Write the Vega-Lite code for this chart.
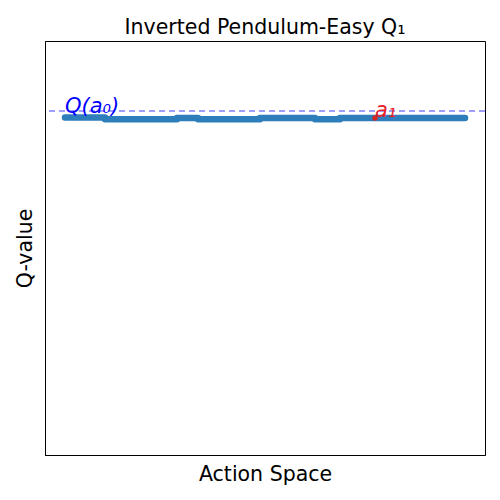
{
  "$schema": "https://vega.github.io/schema/vega-lite/v6.json",
  "width": 440,
  "height": 414,
  "autosize": "none",
  "padding": {"left": 45, "top": 41, "right": 15, "bottom": 45},
  "background": "white",
  "config": {"view": {"stroke": "black", "strokeWidth": 1}, "font": "DejaVu Sans"},
  "title": {"text": "Inverted Pendulum-Easy Q₁", "fontSize": 20.5, "fontWeight": "normal", "font": "DejaVu Sans", "color": "black", "offset": 3},
  "datasets": {
    "q": [
      {"a": 20, "q": 337.5}, {"a": 60, "q": 337.5}, {"a": 60, "q": 335.8}, {"a": 132, "q": 335.8},
      {"a": 132, "q": 337}, {"a": 153, "q": 337}, {"a": 153, "q": 335.8}, {"a": 215, "q": 335.8},
      {"a": 215, "q": 337}, {"a": 270, "q": 337}, {"a": 270, "q": 335.8}, {"a": 295, "q": 335.8},
      {"a": 295, "q": 337}, {"a": 420, "q": 337}
    ],
    "best": [{"a": 330, "q": 337, "label": "a₁"}],
    "q0": [{"a": 20, "q": 344, "label": "Q(a₀)"}]
  },
  "layer": [
    {
      "data": {"name": "q"},
      "mark": {"type": "line", "color": "#2e7ebb", "strokeWidth": 6.5, "strokeCap": "round", "strokeJoin": "round"},
      "encoding": {
        "x": {"field": "a", "type": "quantitative", "scale": {"domain": [0, 440], "nice": false, "zero": false},
              "axis": {"title": "Action Space", "labels": false, "ticks": false, "grid": false, "domainColor": "black", "titleFontSize": 20.5, "titleFontWeight": "normal", "titleColor": "black", "titlePadding": 9}},
        "y": {"field": "q", "type": "quantitative", "scale": {"domain": [0, 414], "nice": false, "zero": false},
              "axis": {"title": "Q-value", "labels": false, "ticks": false, "grid": false, "domainColor": "black", "titleFontSize": 20.5, "titleFontWeight": "normal", "titleColor": "black", "titlePadding": 10}}
      }
    },
    {
      "data": {"name": "q0"},
      "mark": {"type": "rule", "color": "#7f7fff", "strokeWidth": 1.5, "strokeDash": [6, 4]},
      "encoding": {"y": {"field": "q", "type": "quantitative"}}
    },
    {
      "data": {"name": "q0"},
      "mark": {"type": "text", "color": "#0000ff", "fontSize": 21, "fontStyle": "italic", "align": "left", "baseline": "alphabetic", "dy": 2},
      "encoding": {"x": {"field": "a", "type": "quantitative"}, "y": {"field": "q", "type": "quantitative"}, "text": {"field": "label"}}
    },
    {
      "data": {"name": "best"},
      "mark": {"type": "point", "filled": true, "color": "#d62728", "size": 30, "opacity": 1},
      "encoding": {"x": {"field": "a", "type": "quantitative"}, "y": {"field": "q", "type": "quantitative"}}
    },
    {
      "data": {"name": "best"},
      "mark": {"type": "text", "color": "#e8202a", "fontSize": 21, "fontStyle": "italic", "align": "left", "baseline": "alphabetic", "dy": -1},
      "encoding": {"x": {"field": "a", "type": "quantitative"}, "y": {"field": "q", "type": "quantitative"}, "text": {"field": "label"}}
    }
  ]
}
